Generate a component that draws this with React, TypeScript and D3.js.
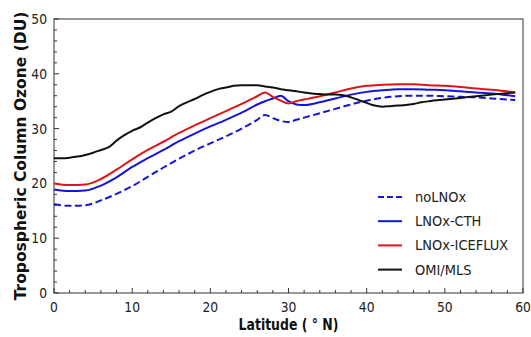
import React, { useRef, useEffect } from 'react';
import * as d3 from 'd3';

// latitude grid shared by the three model runs
const modelLat = [0, 2, 4, 6, 8, 10, 12, 14, 16, 18, 20, 22, 24, 26, 27, 28, 29, 30, 31, 32, 34, 36, 38, 40, 42, 44, 46, 48, 50, 52, 54, 56, 59];

const noLNOx = [16.2, 15.9, 16.0, 16.9, 18.1, 19.5, 21.2, 22.9, 24.5, 26.0, 27.3, 28.6, 30.0, 31.6, 32.5, 31.9, 31.4, 31.2, 31.6, 32.0, 32.8, 33.6, 34.4, 35.1, 35.6, 35.9, 36.0, 36.0, 35.9, 35.8, 35.7, 35.5, 35.2];
const lnoxCTH = [18.9, 18.6, 18.7, 19.6, 21.1, 23.0, 24.6, 26.1, 27.7, 29.1, 30.4, 31.6, 32.9, 34.4, 35.0, 35.5, 36.0, 35.0, 34.4, 34.3, 34.8, 35.5, 36.2, 36.7, 37.0, 37.2, 37.2, 37.1, 37.0, 36.8, 36.6, 36.4, 35.9];
const lnoxIceflux = [20.0, 19.7, 19.8, 20.8, 22.5, 24.4, 26.1, 27.6, 29.2, 30.6, 31.9, 33.2, 34.5, 35.9, 36.6, 35.8, 35.1, 34.6, 35.0, 35.3, 35.9, 36.6, 37.3, 37.8, 38.0, 38.1, 38.1, 37.9, 37.8, 37.6, 37.3, 37.1, 36.6];

// satellite product
const omiLat = [0, 1, 2, 3, 4, 5, 6, 7, 8, 9, 10, 11, 12, 13, 14, 15, 16, 17, 18, 19, 20, 21, 22, 23, 24, 25, 26, 27, 28, 29, 30, 31, 32, 33, 34, 35, 36, 37, 38, 39, 40, 41, 42, 43, 44, 45, 46, 47, 48, 50, 52, 54, 56, 59];
const omiMls = [24.6, 24.6, 24.7, 24.9, 25.2, 25.6, 26.1, 26.6, 27.8, 28.8, 29.6, 30.2, 31.1, 31.9, 32.6, 33.1, 34.1, 34.8, 35.4, 36.1, 36.7, 37.2, 37.5, 37.8, 37.9, 37.9, 37.9, 37.7, 37.5, 37.2, 37.0, 36.8, 36.6, 36.4, 36.3, 36.2, 36.2, 36.1, 35.7, 35.2, 34.7, 34.2, 34.0, 34.1, 34.2, 34.3, 34.5, 34.8, 35.0, 35.3, 35.6, 35.9, 36.2, 36.6];

const xTicks = [0, 10, 20, 30, 40, 50, 60];
const yTicks = [0, 10, 20, 30, 40, 50];

const series = [
  { name: 'noLNOx', lat: modelLat, values: noLNOx, color: '#1414d8', dash: '7,3.5' },
  { name: 'LNOx-CTH', lat: modelLat, values: lnoxCTH, color: '#1414d8', dash: null },
  { name: 'LNOx-ICEFLUX', lat: modelLat, values: lnoxIceflux, color: '#e01414', dash: null },
  { name: 'OMI/MLS', lat: omiLat, values: omiMls, color: '#111111', dash: null },
];

const App: React.FC = () => {
  const svgRef = useRef<SVGSVGElement>(null);
  const width = 531;
  const height = 337;

  useEffect(() => {
    if (!svgRef.current) return;
    const svg = d3.select(svgRef.current);
    svg.selectAll('*').remove();

    const left = 54, right = 523, top = 19, bottom = 293;
    const x = d3.scaleLinear().domain([0, 60]).range([left, right]);
    const y = d3.scaleLinear().domain([0, 50]).range([bottom, top]);
    const font = '"DejaVu Sans", sans-serif';
    const axisColor = '#333';

    // minor + major ticks, pointing inward
    const xMinor = d3.range(0, 61, 2);
    const yMinor = d3.range(0, 51, 2);
    svg.append('g').selectAll('line').data(xMinor).enter().append('line')
      .attr('x1', d => x(d)).attr('x2', d => x(d))
      .attr('y1', bottom).attr('y2', d => bottom - (d % 10 === 0 ? 5 : 3))
      .attr('stroke', axisColor).attr('stroke-width', 1);
    svg.append('g').selectAll('line').data(yMinor).enter().append('line')
      .attr('x1', left).attr('x2', d => left + (d % 10 === 0 ? 5 : 3))
      .attr('y1', d => y(d)).attr('y2', d => y(d))
      .attr('stroke', axisColor).attr('stroke-width', 1);

    // frame
    svg.append('rect')
      .attr('x', left).attr('y', top)
      .attr('width', right - left).attr('height', bottom - top)
      .attr('fill', 'none').attr('stroke', axisColor).attr('stroke-width', 1);

    // tick labels (source image is horizontally squeezed)
    svg.append('g').selectAll('text').data(xTicks).enter().append('text')
      .attr('transform', d => `translate(${x(d)},312) scale(0.88,1)`)
      .attr('text-anchor', 'middle')
      .attr('font-family', font).attr('font-size', '14px').attr('fill', '#222')
      .text(d => d);
    svg.append('g').selectAll('text').data(yTicks).enter().append('text')
      .attr('transform', d => `translate(47,${y(d) + 5}) scale(0.88,1)`)
      .attr('text-anchor', 'end')
      .attr('font-family', font).attr('font-size', '14px').attr('fill', '#222')
      .text(d => d);

    // axis titles
    svg.append('text')
      .attr('transform', `translate(${(left + right) / 2},330) scale(0.78,1)`)
      .attr('text-anchor', 'middle')
      .attr('font-family', font).attr('font-size', '16px').attr('font-weight', 700).attr('fill', '#111')
      .text('Latitude ( ° N)');
    svg.append('text')
      .attr('transform', `translate(26,156) rotate(-90)`)
      .attr('text-anchor', 'middle')
      .attr('font-family', font).attr('font-size', '15.5px').attr('font-weight', 700).attr('fill', '#111')
      .text('Tropospheric Column Ozone (DU)');

    // curves
    const line = d3.line<[number, number]>()
      .x(d => x(d[0]))
      .y(d => y(d[1]))
      .curve(d3.curveMonotoneX);

    series.forEach(s => {
      const pts = s.lat.map((l, i) => [l, s.values[i]] as [number, number]);
      svg.append('path')
        .datum(pts)
        .attr('d', line)
        .attr('fill', 'none')
        .attr('stroke', s.color)
        .attr('stroke-width', 2)
        .attr('stroke-dasharray', s.dash ?? null);
    });

    // legend
    const legend = svg.append('g');
    series.forEach((s, i) => {
      const ly = 197 + i * 24.2;
      legend.append('line')
        .attr('x1', 378).attr('x2', 402)
        .attr('y1', ly).attr('y2', ly)
        .attr('stroke', s.color).attr('stroke-width', 2)
        .attr('stroke-dasharray', s.dash ? '6,3' : null);
      legend.append('text')
        .attr('transform', `translate(415,${ly + 5}) scale(0.93,1)`)
        .attr('font-family', font).attr('font-size', '14px').attr('fill', '#222')
        .text(s.name);
    });
  }, []);

  return (
    <svg
      ref={svgRef}
      width={width}
      height={height}
      style={{ position: 'absolute', left: 0, top: 0, background: '#fff' }}
    />
  );
};

export default App;
